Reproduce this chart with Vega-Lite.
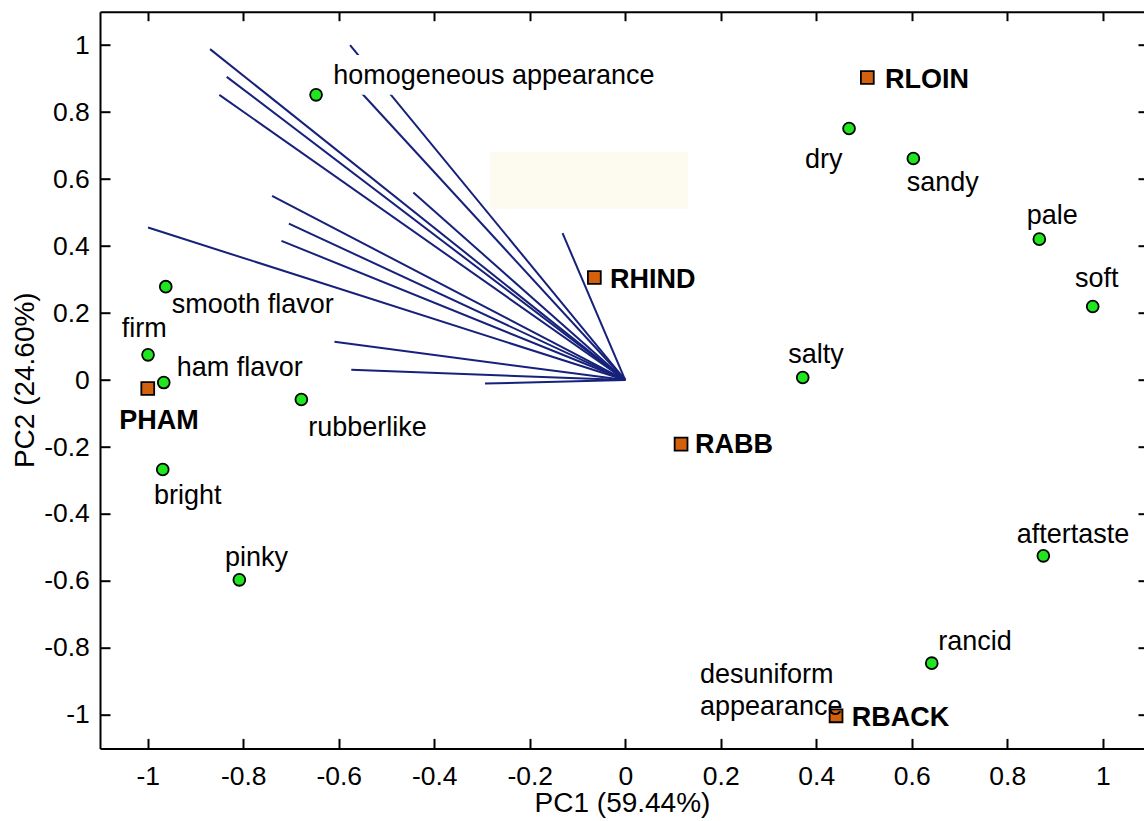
{
  "$schema": "https://vega.github.io/schema/vega-lite/v6.json",
  "width": 1044,
  "height": 736.7,
  "autosize": {"type": "none"},
  "padding": {"left": 100, "top": 11.7, "right": 0, "bottom": 72},
  "background": "white",
  "config": {
    "view": {"stroke": null},
    "axis": {
      "grid": false,
      "labelFont": "Liberation Sans",
      "labelFontSize": 26.5,
      "labelColor": "black",
      "titleFont": "Liberation Sans",
      "titleFontSize": 28,
      "titleFontWeight": "normal",
      "titleColor": "black",
      "domainColor": "black",
      "domainWidth": 2,
      "tickColor": "black",
      "tickWidth": 2
    }
  },
  "datasets": {
    "items": [
      {"name": "homogeneous appearance", "type": "attribute", "x": -0.6475, "y": 0.8517, "lx": -0.6113, "ly": 0.8837},
      {"name": "dry", "type": "attribute", "x": 0.4687, "y": 0.7511, "lx": 0.3765, "ly": 0.6346},
      {"name": "sandy", "type": "attribute", "x": 0.6034, "y": 0.6615, "lx": 0.5895, "ly": 0.565},
      {"name": "pale", "type": "attribute", "x": 0.8672, "y": 0.4208, "lx": 0.8408, "ly": 0.4656},
      {"name": "soft", "type": "attribute", "x": 0.979, "y": 0.2195, "lx": 0.942, "ly": 0.2783},
      {"name": "smooth flavor", "type": "attribute", "x": -0.9623, "y": 0.2788, "lx": -0.9497, "ly": 0.2016},
      {"name": "firm", "type": "attribute", "x": -0.9994, "y": 0.0753, "lx": -1.0545, "ly": 0.129},
      {"name": "ham flavor", "type": "attribute", "x": -0.9665, "y": -0.0075, "lx": -0.9393, "ly": 0.0125},
      {"name": "rubberlike", "type": "attribute", "x": -0.6783, "y": -0.0582, "lx": -0.6637, "ly": -0.1666},
      {"name": "bright", "type": "attribute", "x": -0.9686, "y": -0.2673, "lx": -0.9868, "ly": -0.3697},
      {"name": "pinky", "type": "attribute", "x": -0.8082, "y": -0.5967, "lx": -0.8381, "ly": -0.5549},
      {"name": "salty", "type": "attribute", "x": 0.3717, "y": 0.0075, "lx": 0.3416, "ly": 0.0505},
      {"name": "aftertaste", "type": "attribute", "x": 0.8756, "y": -0.525, "lx": 0.8199, "ly": -0.4871},
      {"name": "rancid", "type": "attribute", "x": 0.6419, "y": -0.8455, "lx": 0.6557, "ly": -0.8066},
      {"name": "desuniform\nappearance", "type": "attribute", "x": 0.4415, "y": -1.0028, "lx": 0.1566, "ly": -0.9052},
      {"name": "RLOIN", "type": "sample", "x": 0.507, "y": 0.9034, "lx": 0.5441, "ly": 0.8735},
      {"name": "RHIND", "type": "sample", "x": -0.0647, "y": 0.3061, "lx": -0.0318, "ly": 0.2762},
      {"name": "PHAM", "type": "sample", "x": -1.0, "y": -0.0254, "lx": -1.0595, "ly": -0.1466},
      {"name": "RABB", "type": "sample", "x": 0.1169, "y": -0.1914, "lx": 0.1462, "ly": -0.2165},
      {"name": "RBACK", "type": "sample", "x": 0.4415, "y": -1.0028, "lx": 0.4743, "ly": -1.0327}
    ],
    "loadings": [
      {"x": -0.8695, "y": 0.9882},
      {"x": -0.8346, "y": 0.9055},
      {"x": -0.8501, "y": 0.8517},
      {"x": -0.5763, "y": 1.0001},
      {"x": -0.583, "y": 0.905},
      {"x": -0.7397, "y": 0.5501},
      {"x": -0.4438, "y": 0.56},
      {"x": -0.9994, "y": 0.4554},
      {"x": -0.7045, "y": 0.4674},
      {"x": -0.72, "y": 0.4157},
      {"x": -0.1313, "y": 0.4387},
      {"x": -0.609, "y": 0.1141},
      {"x": -0.5738, "y": 0.0305},
      {"x": -0.2938, "y": -0.0105}
    ],
    "boxes": [
      {"kind": "stain", "x1": -0.283, "x2": 0.131, "y1": 0.5113, "y2": 0.6815},
      {"kind": "mask", "x1": -0.6224, "x2": 0.0834, "y1": 0.852, "y2": 0.971}
    ]
  },
  "layer": [
    {
      "data": {"name": "boxes"},
      "transform": [{"filter": "datum.kind == 'stain'"}],
      "mark": {"type": "rect", "fill": "#fdfaf0"},
      "encoding": {
        "x": {"field": "x1", "type": "quantitative", "scale": {"domain": [-1.1, 1.0864], "nice": false, "zero": false}, "axis": null},
        "x2": {"field": "x2"},
        "y": {"field": "y1", "type": "quantitative", "scale": {"domain": [-1.1, 1.1], "nice": false, "zero": false}, "axis": null},
        "y2": {"field": "y2"}
      }
    },
    {
      "data": {"name": "loadings"},
      "mark": {"type": "rule", "color": "#16217a", "strokeWidth": 2},
      "encoding": {
        "x": {"field": "x", "type": "quantitative", "scale": {"domain": [-1.1, 1.0864], "nice": false, "zero": false},
          "axis": {"orient": "bottom", "values": [-1, -0.8, -0.6, -0.4, -0.2, 0, 0.2, 0.4, 0.6, 0.8, 1], "tickSize": -10, "labelPadding": 25.5,
            "labelExpr": "toString(round(datum.value*10)/10)", "title": "PC1 (59.44%)", "titleBaseline": "alphabetic", "titleY": 63}},
        "x2": {"datum": 0},
        "y": {"field": "y", "type": "quantitative", "scale": {"domain": [-1.1, 1.1], "nice": false, "zero": false},
          "axis": {"orient": "left", "values": [-1, -0.8, -0.6, -0.4, -0.2, 0, 0.2, 0.4, 0.6, 0.8, 1], "tickSize": -10, "labelPadding": 20.7,
            "labelExpr": "toString(round(datum.value*10)/10)", "title": "PC2 (24.60%)", "titleBaseline": "alphabetic", "titleX": -66.7, "titleY": 368}},
        "y2": {"datum": 0}
      }
    },
    {
      "data": {"name": "boxes"},
      "transform": [{"filter": "datum.kind == 'mask'"}],
      "mark": {"type": "rect", "fill": "white"},
      "encoding": {
        "x": {"field": "x1", "type": "quantitative", "scale": {"domain": [-1.1, 1.0864], "nice": false, "zero": false}, "axis": null},
        "x2": {"field": "x2"},
        "y": {"field": "y1", "type": "quantitative", "scale": {"domain": [-1.1, 1.1], "nice": false, "zero": false}, "axis": null},
        "y2": {"field": "y2"}
      }
    },
    {
      "data": {"name": "items"},
      "transform": [{"filter": "datum.type == 'attribute'"}],
      "mark": {"type": "point", "shape": "circle", "filled": true, "fill": "#1fe61f", "stroke": "black", "strokeWidth": 1.8, "size": 140, "opacity": 1},
      "encoding": {
        "x": {"field": "x", "type": "quantitative", "scale": {"domain": [-1.1, 1.0864], "nice": false, "zero": false},
          "axis": {"orient": "top", "values": [-1, -0.8, -0.6, -0.4, -0.2, 0, 0.2, 0.4, 0.6, 0.8, 1], "tickSize": -9, "labels": false, "title": null, "domain": true}},
        "y": {"field": "y", "type": "quantitative", "scale": {"domain": [-1.1, 1.1], "nice": false, "zero": false},
          "axis": {"orient": "right", "values": [-1, -0.8, -0.6, -0.4, -0.2, 0, 0.2, 0.4, 0.6, 0.8, 1], "tickSize": -6, "labels": false, "title": null, "domain": false}}
      }
    },
    {
      "data": {"name": "items"},
      "transform": [{"filter": "datum.type == 'sample'"}],
      "mark": {"type": "point", "shape": "square", "filled": true, "fill": "#d2600c", "stroke": "black", "strokeWidth": 1.8, "size": 165, "opacity": 1},
      "encoding": {
        "x": {"field": "x", "type": "quantitative", "scale": {"domain": [-1.1, 1.0864], "nice": false, "zero": false}, "axis": null},
        "y": {"field": "y", "type": "quantitative", "scale": {"domain": [-1.1, 1.1], "nice": false, "zero": false}, "axis": null}
      }
    },
    {
      "data": {"name": "items"},
      "transform": [{"filter": "datum.type == 'attribute'"}],
      "mark": {"type": "text", "align": "left", "baseline": "alphabetic", "font": "Liberation Sans", "fontSize": 27, "color": "black", "lineBreak": "\n", "lineHeight": 32},
      "encoding": {
        "x": {"field": "lx", "type": "quantitative", "scale": {"domain": [-1.1, 1.0864], "nice": false, "zero": false}, "axis": null},
        "y": {"field": "ly", "type": "quantitative", "scale": {"domain": [-1.1, 1.1], "nice": false, "zero": false}, "axis": null},
        "text": {"field": "name"}
      }
    },
    {
      "data": {"name": "items"},
      "transform": [{"filter": "datum.type == 'sample'"}],
      "mark": {"type": "text", "align": "left", "baseline": "alphabetic", "font": "Liberation Sans", "fontSize": 27, "fontWeight": "bold", "color": "black"},
      "encoding": {
        "x": {"field": "lx", "type": "quantitative", "scale": {"domain": [-1.1, 1.0864], "nice": false, "zero": false}, "axis": null},
        "y": {"field": "ly", "type": "quantitative", "scale": {"domain": [-1.1, 1.1], "nice": false, "zero": false}, "axis": null},
        "text": {"field": "name"}
      }
    }
  ],
  "resolve": {"axis": {"x": "independent", "y": "independent"}}
}
